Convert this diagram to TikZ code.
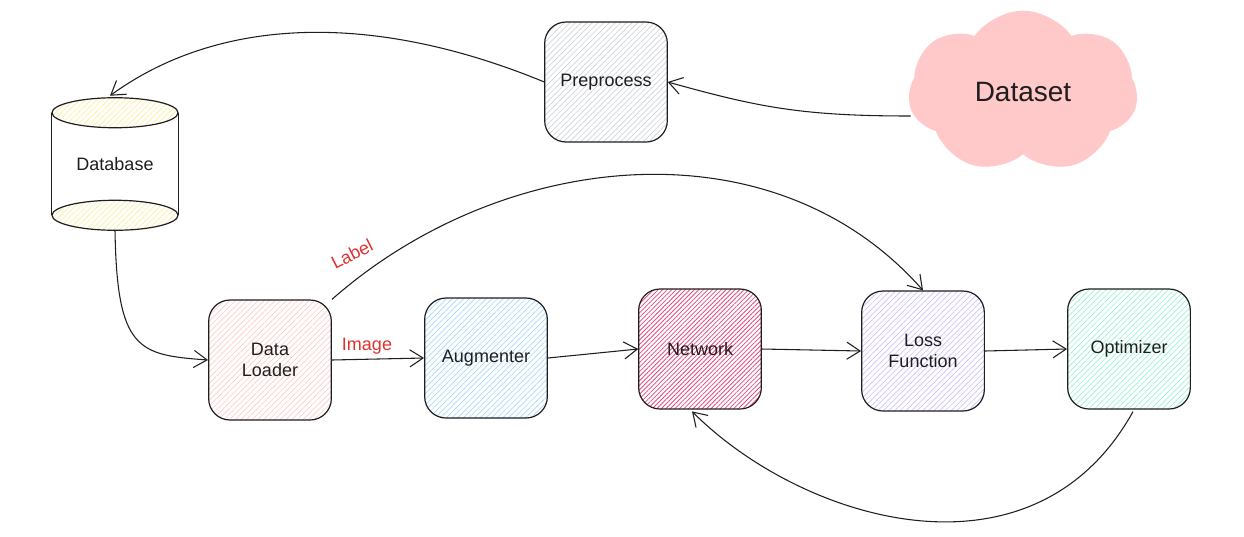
\documentclass[tikz,border=0pt]{standalone}
\usepackage{fontspec}
\setmainfont{Liberation Sans}
\usepackage{xcolor}
\usetikzlibrary{shapes.symbols,arrows.meta,calc,patterns.meta}

\definecolor{ink}{HTML}{1E1E1E}
\definecolor{labelred}{HTML}{E03131}
\definecolor{grayhatch}{HTML}{CED4DA}
\definecolor{yellowhatch}{HTML}{FFEC99}
\definecolor{pinkhatch}{HTML}{FFC9C9}
\definecolor{bluehatch}{HTML}{A5D8FF}
\definecolor{nethatch}{HTML}{E64980}
\definecolor{losshatch}{HTML}{D0BFFF}
\definecolor{opthatch}{HTML}{96F2D7}
\definecolor{cloudfill}{HTML}{FFC9C9}

\begin{document}
\begin{tikzpicture}[
  x=0.75pt, y=-0.75pt,
  box/.style={draw=ink, line width=0.9pt, rounded corners=16pt,
              minimum width=92pt, minimum height=90pt, align=center,
              font=\fontsize{13.5}{16}\selectfont, text=ink},
  hatch/.style={pattern={Lines[angle=45,distance=3pt,line width=0.5pt]},
                pattern color=#1},
  ar/.style={-{Straight Barb[length=3.5mm,width=4.5mm]}, draw=ink, line width=0.8pt},
  lbl/.style={text=labelred, font=\fontsize{13.5}{16}\selectfont}
]
  \useasboundingbox (0,0) rectangle (1244,536);

  % top row
  \node[cloud, cloud puffs=7, cloud puff arc=110, cloud ignores aspect, fill=cloudfill,
        minimum width=172pt, minimum height=122pt,
        font=\fontsize{21}{24}\selectfont, text=ink] (ds) at (1023,92) {Dataset};
  \node[box, hatch=grayhatch] (pre) at (606,82) {Preprocess};

  % database
  \node[minimum width=94.5pt, minimum height=99pt, inner sep=0pt,
        font=\fontsize{13.5}{16}\selectfont, text=ink] (db) at (115,164) {Database};
  \draw[ink, line width=0.9pt] ($(db.north west)+(0,15)$) -- ($(db.south west)+(0,-15)$)
        ($(db.north east)+(0,15)$) -- ($(db.south east)+(0,-15)$);
  \draw[ink, line width=0.9pt, hatch=yellowhatch] ($(db.north)+(0,15)$) ellipse [x radius=63, y radius=15];
  \draw[ink, line width=0.9pt, hatch=yellowhatch] ($(db.south)+(0,-15)$) ellipse [x radius=63, y radius=15];

  % bottom row
  \node[box, hatch=pinkhatch] (dl) at (270,360) {Data\\Loader};
  \node[box, hatch=bluehatch] (aug) at (486,358) {Augmenter};
  \node[box, pattern={Lines[angle=45,distance=2.4pt,line width=0.6pt]},
        pattern color=nethatch] (net) at (700,349) {Network};
  \node[box, hatch=losshatch] (loss) at (923,351) {Loss\\Function};
  \node[box, hatch=opthatch] (opt) at (1129,349) {Optimizer};

  % connectors
  \draw[ar] ($(ds.west)+(2,24)$) .. controls +(-110,0) and +(90,25) .. (pre.east);
  \draw[ar] (pre.west) .. controls +(-170,-70) and +(110,-80) .. ($(db.north)+(-5,-2)$);
  \draw[ar] (db.south) .. controls +(2,120) and +(-70,-5) .. (dl.west);
  \draw[ar] (dl.north east) .. controls +(170,-150) and +(-150,-170) .. (loss.north);
  \draw[ar] (dl.east) -- (aug.west);
  \draw[ar] (aug.east) -- (net.west);
  \draw[ar] (net.east) -- (loss.west);
  \draw[ar] (loss.east) -- (opt.west);
  \draw[ar] ($(opt.south)+(4,2)$) .. controls +(-100,180) and +(110,110) .. ($(net.south)+(-8,2)$);

  % edge labels
  \node[lbl, rotate=27] (lblname) at (352,254) {Label};
  \node[lbl] (imgname) at (367,346) {Image};
\end{tikzpicture}
\end{document}
